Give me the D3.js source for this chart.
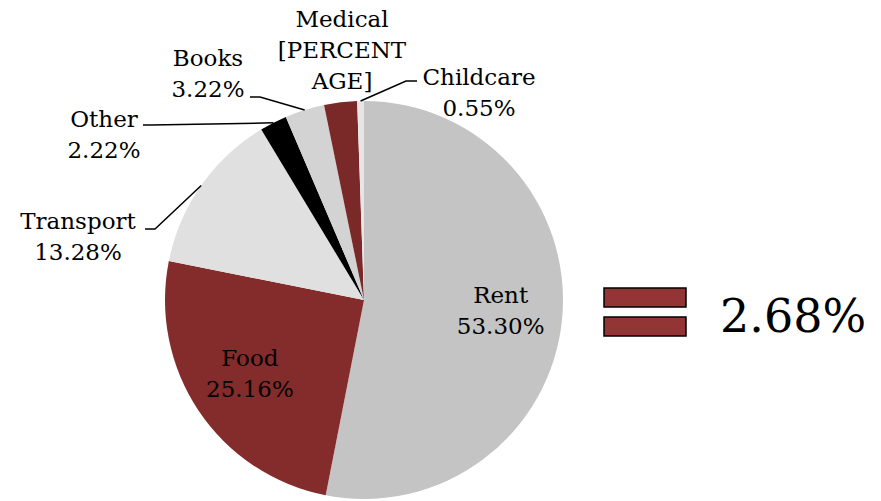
<!DOCTYPE html>
<html>
<head>
<meta charset="utf-8">
<script src="https://cdn.jsdelivr.net/npm/d3@7"></script>
<style>
  body { margin: 0; background: #fff; }
  text { font-family: "DejaVu Serif", serif; fill: #000; }
</style>
</head>
<body>
<script>
var width = 881,
    height = 501;

// data
var categories = ["Rent", "Food", "Transport", "Other", "Books", "Medical", "Childcare"]
var values = [53.30, 25.16, 13.28, 2.22, 3.22, 2.68, 0.55]
var valueLabels = ["53.30%", "25.16%", "13.28%", "2.22%", "3.22%", "[PERCENT AGE]", "0.55%"]
var legendLabel = "2.68%"

var colors = ["#c4c4c4", "#842b2c", "#e0e0e0", "#000000", "#d3d3d3", "#7b2829", "#e6e6e6"]

var cx = 364, cy = 300, radius = 199;

// outside label layout: text centre, first baseline, elbow end
var outside = {
    "Transport": {x: 78, y: 229, lx: 145, ly: 229, elbow: 10},
    "Other":     {x: 104, y: 127, lx: 143, ly: 125, elbow: 8},
    "Books":     {x: 208, y: 66, lx: 250, ly: 97, elbow: 10},
    "Medical":   {x: 342, y: 27},
    "Childcare": {x: 479, y: 85, lx: 417, ly: 81, elbow: -11}
}

var svg = d3.select("body").append("svg")
    .attr("width", width)
    .attr("height", height);

var g = svg.append("g")
    .attr("transform", "translate(" + cx + "," + cy + ")");

var pie = d3.pie().sort(null).value(function(d) { return d.value });

var data = categories.map(function(c, i) {
    return {name: c, value: values[i], label: valueLabels[i], color: colors[i]}
})

var arcs = pie(data);

var arc = d3.arc().innerRadius(0).outerRadius(radius);
var labelArc = d3.arc().innerRadius(radius * 0.69).outerRadius(radius * 0.69);
var edgeArc = d3.arc().innerRadius(radius).outerRadius(radius);

g.selectAll("path.slice")
    .data(arcs)
    .enter().append("path")
    .attr("class", "slice")
    .attr("fill", function(d) { return d.data.color })
    .attr("d", arc);

// inside labels
arcs.forEach(function(d) {
    if (outside[d.data.name]) return;
    var c = labelArc.centroid(d);
    var t = g.append("text")
        .attr("text-anchor", "middle")
        .attr("font-size", 23);
    t.append("tspan").attr("x", c[0]).attr("y", c[1] - 10).text(d.data.name);
    t.append("tspan").attr("x", c[0]).attr("y", c[1] + 21).text(d.data.label);
})

// outside labels + leaders
arcs.forEach(function(d) {
    var o = outside[d.data.name];
    if (!o) return;
    var lines = [d.data.name].concat(d.data.label.split(" "));
    var t = svg.append("text")
        .attr("text-anchor", "middle")
        .attr("font-size", 23);
    lines.forEach(function(s, i) {
        t.append("tspan").attr("x", o.x).attr("y", o.y + i * 31).text(s);
    })
    if (o.lx === undefined) return;
    var e = edgeArc.centroid(d);
    var pts = [[o.lx, o.ly], [o.lx + o.elbow, o.ly], [cx + e[0], cy + e[1]]];
    svg.append("path")
        .attr("d", d3.line()(pts))
        .attr("fill", "none")
        .attr("stroke", "#000")
        .attr("stroke-width", 1.5);
})

// legend
var legend = svg.append("g");
[288, 317].forEach(function(y) {
    legend.append("rect")
        .attr("x", 604).attr("y", y)
        .attr("width", 82).attr("height", 19)
        .attr("fill", "#943535")
        .attr("stroke", "#000")
        .attr("stroke-width", 1.5);
})
legend.append("text")
    .attr("x", 720).attr("y", 332)
    .attr("font-size", 46)
    .text(legendLabel);
</script>
</body>
</html>
